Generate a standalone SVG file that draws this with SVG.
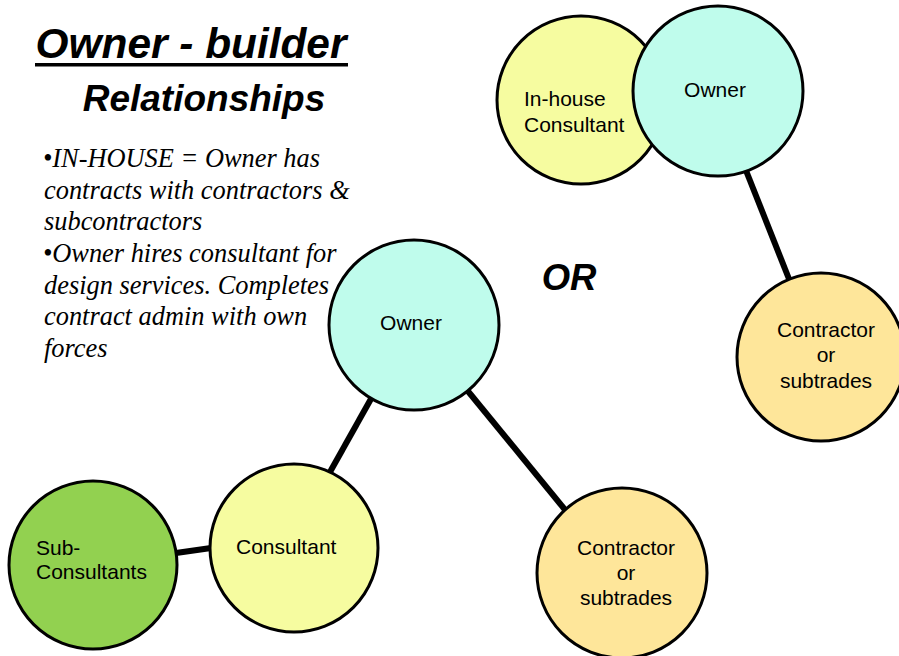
<svg xmlns="http://www.w3.org/2000/svg" width="899" height="656" viewBox="0 0 899 656">
<style>
.node{stroke:#000;stroke-width:3}
.cyan{fill:#BFFCEC}
.yel{fill:#F6FCA0}
.grn{fill:#92D150}
.tan{fill:#FEE69A}
.lbl{font-family:"Liberation Sans",Arial,sans-serif;font-size:21px;fill:#000}
.mid{text-anchor:middle}
.title{font-family:"Liberation Sans",Arial,sans-serif;font-weight:bold;font-style:italic;fill:#000}
.body{font-family:"Liberation Serif","Times New Roman",serif;font-style:italic;font-size:26.4px;fill:#000}
.conn line{stroke:#000;stroke-width:6}
</style>
<rect width="899" height="656" fill="#fff"/>
<g id="title">
<text class="title" x="191" y="58" font-size="42.4" text-anchor="middle">Owner - builder</text>
<rect x="35" y="63" width="313" height="3.5" fill="#000"/>
<text class="title" x="204" y="111" font-size="37" text-anchor="middle">Relationships</text>
</g>
<g id="description">
<text class="body" x="43" y="167">•IN-HOUSE = Owner has</text>
<text class="body" x="44" y="199">contracts with contractors &amp;</text>
<text class="body" x="44" y="230">subcontractors</text>
<text class="body" x="43" y="262">•Owner hires consultant for</text>
<text class="body" x="44" y="294">design services. Completes</text>
<text class="body" x="44" y="325">contract admin with own</text>
<text class="body" x="44" y="357">forces</text>
</g>
<g id="or-label">
<text class="title" x="569" y="290" font-size="36.5" text-anchor="middle">OR</text>
</g>
<g id="connectors" class="conn">
<line x1="745" y1="168" x2="789" y2="279"/>
<line x1="372" y1="397" x2="330" y2="472"/>
<line x1="467" y1="390" x2="566" y2="511"/>
<line x1="176" y1="553" x2="211" y2="548"/>
</g>
<g id="inhouse-consultant">
<circle class="node yel" cx="581" cy="100" r="84"/>
<text class="lbl" x="524" y="106">In-house</text>
<text class="lbl" x="524" y="132">Consultant</text>
</g>
<g id="owner-top">
<circle class="node cyan" cx="718" cy="91" r="85"/>
<text class="lbl mid" x="715" y="97">Owner</text>
</g>
<g id="contractor-top">
<circle class="node tan" cx="821" cy="357" r="84"/>
<text class="lbl mid" x="826" y="337">Contractor</text>
<text class="lbl mid" x="826" y="362">or</text>
<text class="lbl mid" x="826" y="388">subtrades</text>
</g>
<g id="owner-mid">
<circle class="node cyan" cx="414" cy="325" r="85"/>
<text class="lbl mid" x="411" y="330">Owner</text>
</g>
<g id="consultant">
<circle class="node yel" cx="294" cy="548" r="84"/>
<text class="lbl" x="236" y="554">Consultant</text>
</g>
<g id="sub-consultants">
<circle class="node grn" cx="93" cy="565" r="84"/>
<text class="lbl" x="36" y="555">Sub-</text>
<text class="lbl" x="36" y="579">Consultants</text>
</g>
<g id="contractor-mid">
<circle class="node tan" cx="622" cy="573" r="85"/>
<text class="lbl mid" x="626" y="555">Contractor</text>
<text class="lbl mid" x="626" y="580">or</text>
<text class="lbl mid" x="626" y="605">subtrades</text>
</g>
</svg>
